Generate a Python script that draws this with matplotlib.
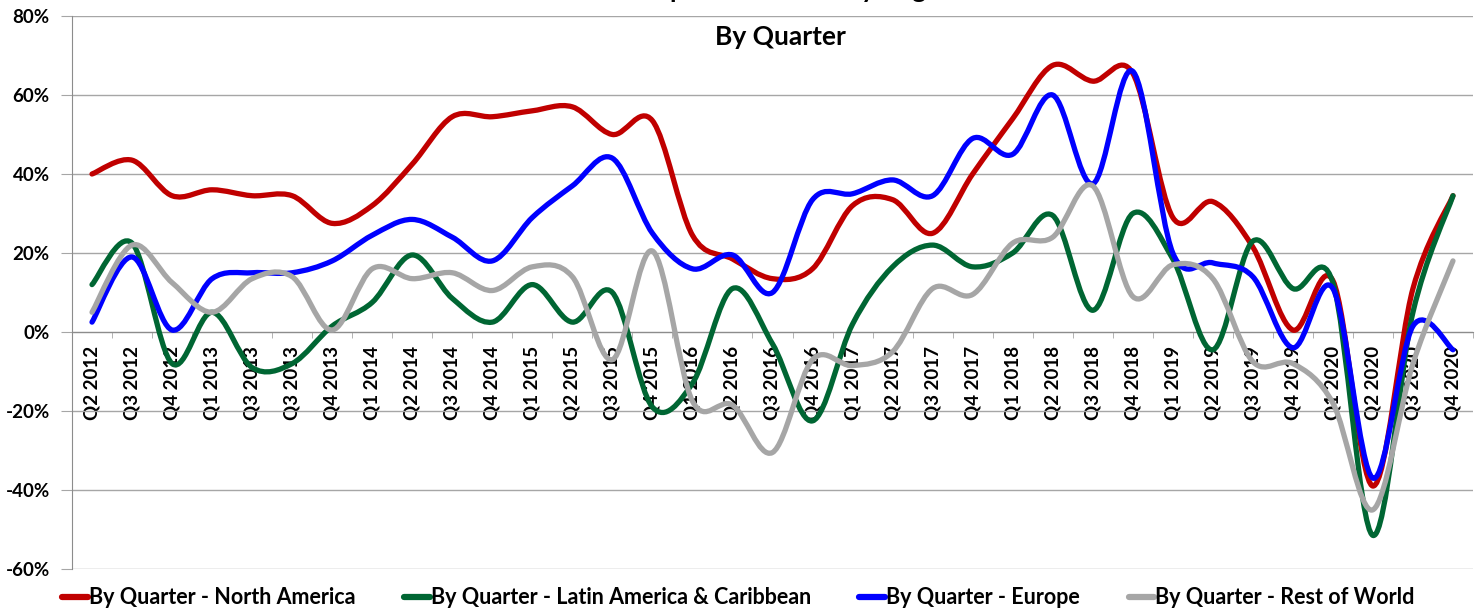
import numpy as np
import matplotlib
matplotlib.use("Agg")
import matplotlib.pyplot as plt
from matplotlib.path import Path
from matplotlib.patches import PathPatch
from matplotlib.lines import Line2D
from matplotlib import ticker

plt.rcParams['font.family'] = ['Lato', 'DejaVu Sans']
plt.rcParams['font.weight'] = 'bold'

quarters = ["Q2 2012", "Q3 2012", "Q4 2012", "Q1 2013", "Q3 2013", "Q3 2013", "Q4 2013",
            "Q1 2014", "Q2 2014", "Q3 2014", "Q4 2014", "Q1 2015", "Q2 2015", "Q3 2015",
            "Q4 2015", "Q1 2016", "Q2 2016", "Q3 2016", "Q4 2016", "Q1 2017", "Q2 2017",
            "Q3 2017", "Q4 2017", "Q1 2018", "Q2 2018", "Q3 2018", "Q4 2018", "Q1 2019",
            "Q2 2019", "Q3 2019", "Q4 2019", "Q1 2020", "Q2 2020", "Q3 2020", "Q4 2020"]

# net optimism, percent
north_america = [40, 43.5, 34.5, 36, 34.5, 34.5, 27.5, 32, 42.5, 54.5, 54.5, 56, 57, 50,
                 53.5, 24.5, 18.5, 13.5, 16, 32, 33.5, 25, 40, 54, 67.5, 63.5, 65.5, 29,
                 33, 21.5, 0.5, 13, -39, 11, 34.5]
latin_america = [12, 22.5, -8, 5, -9, -8, 1.5, 7.5, 19.5, 8.5, 2.5, 12, 2.5, 10, -19,
                 -13, 11, -3, -22.5, 2, 16.5, 22, 16.5, 20, 29.5, 5.5, 30, 18.5, -4.5,
                 23, 11, 12.5, -51.5, 5, 34.5]
europe = [2.5, 19, 0.5, 13.5, 15, 15, 18, 24.5, 28.5, 24, 18, 29, 37, 44, 25, 16, 19.5,
          10, 33.5, 35, 38.5, 34.5, 49, 45, 60, 37.5, 66, 20, 17.5, 14, -4, 11, -37,
          1.5, -4.5]
rest_of_world = [5, 22, 12.5, 5, 13.5, 14, 0.5, 16, 13.5, 15, 10.5, 16.5, 14, -7, 20.5,
                 -17.5, -18.5, -30.5, -7, -8.5, -5, 11, 9.5, 22.5, 24, 37, 9, 17, 13.5,
                 -7.5, -8, -18, -45, -8, 18]

series = [("By Quarter - North America", north_america, "#C00000"),
          ("By Quarter - Latin America & Caribbean", latin_america, "#006633"),
          ("By Quarter - Europe", europe, "#0000FF"),
          ("By Quarter - Rest of World", rest_of_world, "#A6A6A6")]


def smooth_path(x, y):
    # excel style smoothed line: catmull-rom as cubic bezier
    n = len(x)
    verts = [(x[0], y[0])]
    codes = [Path.MOVETO]
    for i in range(n - 1):
        a = i - 1 if i > 0 else i
        d = i + 2 if i + 2 < n else i + 1
        c1 = (x[i] + (x[i + 1] - x[a]) / 6.0, y[i] + (y[i + 1] - y[a]) / 6.0)
        c2 = (x[i + 1] - (x[d] - x[i]) / 6.0, y[i + 1] - (y[d] - y[i]) / 6.0)
        verts += [c1, c2, (x[i + 1], y[i + 1])]
        codes += [Path.CURVE4] * 3
    return Path(verts, codes)


W, H = 1479, 611
fig = plt.figure(figsize=(W / 100, H / 100), dpi=100)
ax = fig.add_axes([72 / W, 1 - 569 / H, (1473 - 72) / W, (569 - 16) / H])

# move the category axis to 0 first (this resets the ticks)
ax.spines['top'].set_visible(False)
ax.spines['right'].set_visible(False)
ax.spines['left'].set_color('#8C8C8C')
ax.spines['bottom'].set_position(('data', 0))
ax.spines['bottom'].set_color('#8C8C8C')

x = np.arange(len(quarters))
handles = []
for i, (name, vals, col) in enumerate(series):
    p = smooth_path(x, np.array(vals, dtype=float))
    ax.add_patch(PathPatch(p, fill=False, edgecolor=col, lw=3.8,
                           capstyle='round', joinstyle='round', zorder=3 + i))
    handles.append(Line2D([], [], color=col, lw=4.5, solid_capstyle='round'))

ax.set_xlim(-0.5, len(quarters) - 0.5)
ax.set_ylim(-60, 80)
ax.yaxis.set_major_locator(ticker.MultipleLocator(20))
ax.yaxis.set_major_formatter(ticker.FuncFormatter(lambda v, p: "%d%%" % v))
ax.grid(axis='y', color='#A6A6A6', lw=1)
ax.set_axisbelow(True)

ax.set_xticks(x)
ax.set_xticks(np.arange(-0.5, len(quarters)), minor=True)
ax.set_xticklabels(quarters, rotation=90, fontsize=13.5, fontweight='bold')
ax.tick_params(axis='x', which='major', length=0, pad=10)
ax.tick_params(axis='x', which='minor', length=4, color='#A6A6A6', direction='out')
ax.tick_params(axis='y', length=8, color='#A6A6A6', pad=8, labelsize=13.5)
for lab in ax.get_yticklabels():
    lab.set_fontweight('bold')

fig.text(780 / W, 1 + 2 / H, "Net Optimism Trend by Region", ha='center', va='baseline',
         fontsize=19, fontweight='bold')
fig.text(780 / W, 1 - 45 / H, "By Quarter", ha='center', va='baseline',
         fontsize=19, fontweight='bold')

fig.legend(handles, [s[0] for s in series], loc='center left',
           bbox_to_anchor=(62 / W, 1 - 598 / H), ncol=4, frameon=False,
           handlelength=1.2, handletextpad=0.05, columnspacing=2.25,
           borderpad=0, borderaxespad=0, prop={'size': 15.5, 'weight': 'bold'})

fig.savefig("out.png", dpi=100)
